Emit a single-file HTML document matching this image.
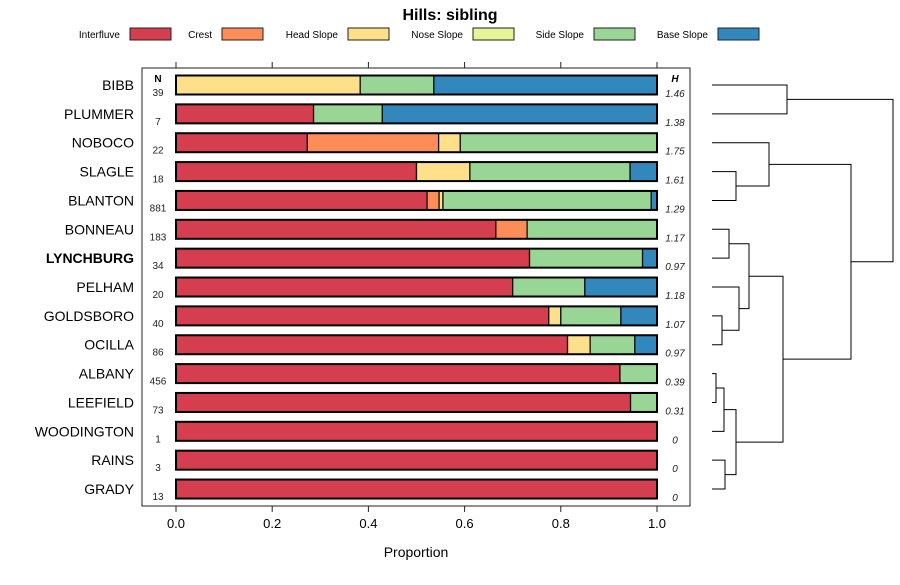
<!DOCTYPE html>
<html><head><meta charset="utf-8"><style>
body{margin:0;background:#fff;}
svg{font-family:"Liberation Sans",sans-serif;}
</style></head><body>
<svg id="c" width="900" height="580" xmlns="http://www.w3.org/2000/svg">
<text x="450" y="20" text-anchor="middle" font-size="16" font-weight="bold">Hills: sibling</text>
<g id="legend"></g>
<rect x="142" y="68" width="548" height="438" fill="none" stroke="#222" stroke-width="1"/>
<g id="bars"></g>
<g id="axis"></g>
<text x="416" y="557" text-anchor="middle" font-size="14">Proportion</text>
<text x="158" y="82" text-anchor="middle" font-size="10" font-weight="bold">N</text>
<text x="675" y="82" text-anchor="middle" font-size="10" font-weight="bold" font-style="italic">H</text>
<g id="dend" stroke="#000" stroke-width="1" fill="none"></g>
</svg>
<script>
const series = ["Interfluve","Crest","Head Slope","Nose Slope","Side Slope","Base Slope"];
const colors = ["#D53E4F","#FC8D59","#FEE08B","#E6F598","#99D594","#3288BD"];
const categories = ["BIBB","PLUMMER","NOBOCO","SLAGLE","BLANTON","BONNEAU","LYNCHBURG","PELHAM","GOLDSBORO","OCILLA","ALBANY","LEEFIELD","WOODINGTON","RAINS","GRADY"];
const nValues = [39,7,22,18,881,183,34,20,40,86,456,73,1,3,13];
const hValues = ["1.46","1.38","1.75","1.61","1.29","1.17","0.97","1.18","1.07","0.97","0.39","0.31","0","0","0"];
const interfluve = [0,0.286,0.273,0.5,0.522,0.665,0.735,0.70,0.775,0.814,0.923,0.945,1,1,1];
const crest = [0,0,0.273,0,0.025,0.065,0,0,0,0,0,0,0,0,0];
const headSlope = [0.383,0,0.045,0.111,0.008,0,0,0,0.025,0.047,0,0,0,0,0];
const noseSlope = [0,0,0,0,0,0,0,0,0,0,0,0,0,0,0];
const sideSlope = [0.153,0.143,0.409,0.333,0.433,0.27,0.235,0.15,0.125,0.093,0.077,0.055,0,0,0];
const baseSlope = [0.464,0.571,0,0.056,0.012,0,0.03,0.15,0.075,0.046,0,0,0,0,0];
const ticks = [0,0.2,0.4,0.6,0.8,1.0];
const tickLabels = ["0.0","0.2","0.4","0.6","0.8","1.0"];
const NS="http://www.w3.org/2000/svg";
const xs = v => 176 + v*481;
const ys = i => 85 + i*28.86;
function mk(tag, attrs, parent){const e=document.createElementNS(NS,tag);for(const k in attrs)e.setAttribute(k,attrs[k]);parent.appendChild(e);return e;}
// legend
const lg=document.getElementById('legend');
const legX=[120,212,338,463,584,708];
series.forEach((s,i)=>{
  const t=mk('text',{x:legX[i],y:38,'text-anchor':'end','font-size':10},lg);t.textContent=s;
  
  
  const r=mk('rect',{x:legX[i]+10,y:28,width:41,height:12,fill:colors[i],stroke:'#222','stroke-width':1},lg);
  
  
});
// bars
const bg=document.getElementById('bars');
const all=[interfluve,crest,headSlope,noseSlope,sideSlope,baseSlope];
categories.forEach((c,i)=>{
  const y=ys(i);
  const lab=mk('text',{x:134,y:y+5,'text-anchor':'end','font-size':14,'font-weight':c==="LYNCHBURG"?'bold':'normal'},bg);lab.textContent=c;
  
  
  let cum=0;
  all.forEach((arr,k)=>{
    const v=arr[i]; if(v<=0) return;
    const r=mk('rect',{x:xs(cum),y:y-9.5,width:xs(cum+v)-xs(cum),height:19,fill:colors[k],stroke:'#111','stroke-width':1.3},bg);
    
    
    cum+=v;
  });
  const o=mk('rect',{x:xs(0),y:y-9.5,width:xs(1)-xs(0),height:19,fill:'none',stroke:'#000','stroke-width':2},bg);
  
  
  const n=mk('text',{x:158,y:y+11,'text-anchor':'middle','font-size':10,fill:'#222'},bg);n.textContent=nValues[i];
  
  
  const h=mk('text',{x:675,y:y+12,'text-anchor':'middle','font-size':10,'font-style':'italic',fill:'#222'},bg);h.textContent=hValues[i];
  
  
});
// axis
const ax=document.getElementById('axis');
ticks.forEach((t,i)=>{
  mk('line',{x1:xs(t),x2:xs(t),y1:62,y2:68,stroke:'#222'},ax);
  mk('line',{x1:xs(t),x2:xs(t),y1:506,y2:512,stroke:'#222'},ax);
  const l=mk('text',{x:xs(t),y:528,'text-anchor':'middle','font-size':13},ax);l.textContent=tickLabels[i];
  
  
});
// dendrogram
const dg=document.getElementById('dend');
function link(x0a,ya,x0b,yb,xj){mk('path',{d:`M${x0a},${ya}H${xj}V${yb}H${x0b}`},dg);return (ya+yb)/2;}
const L=712;
const m1=link(L,ys(0),L,ys(1),787);
const m2=link(L,ys(3),L,ys(4),736);
const m3=link(L,ys(2),736,m2,769);
const m4=link(L,ys(5),L,ys(6),729);
const m5=link(L,ys(8),L,ys(9),722);
const m6=link(L,ys(7),722,m5,739);
const m7=link(729,m4,739,m6,749);
const m8=link(L,ys(10),L,ys(11),716);
const m9=link(716,m8,L,ys(12),724);
const m10=link(L,ys(13),L,ys(14),725);
const m11=link(724,m9,725,m10,736);
const m12=link(749,m7,736,m11,783);
const m13=link(769,m3,783,m12,851);
link(787,m1,851,m13,893);
</script>
</body></html>
